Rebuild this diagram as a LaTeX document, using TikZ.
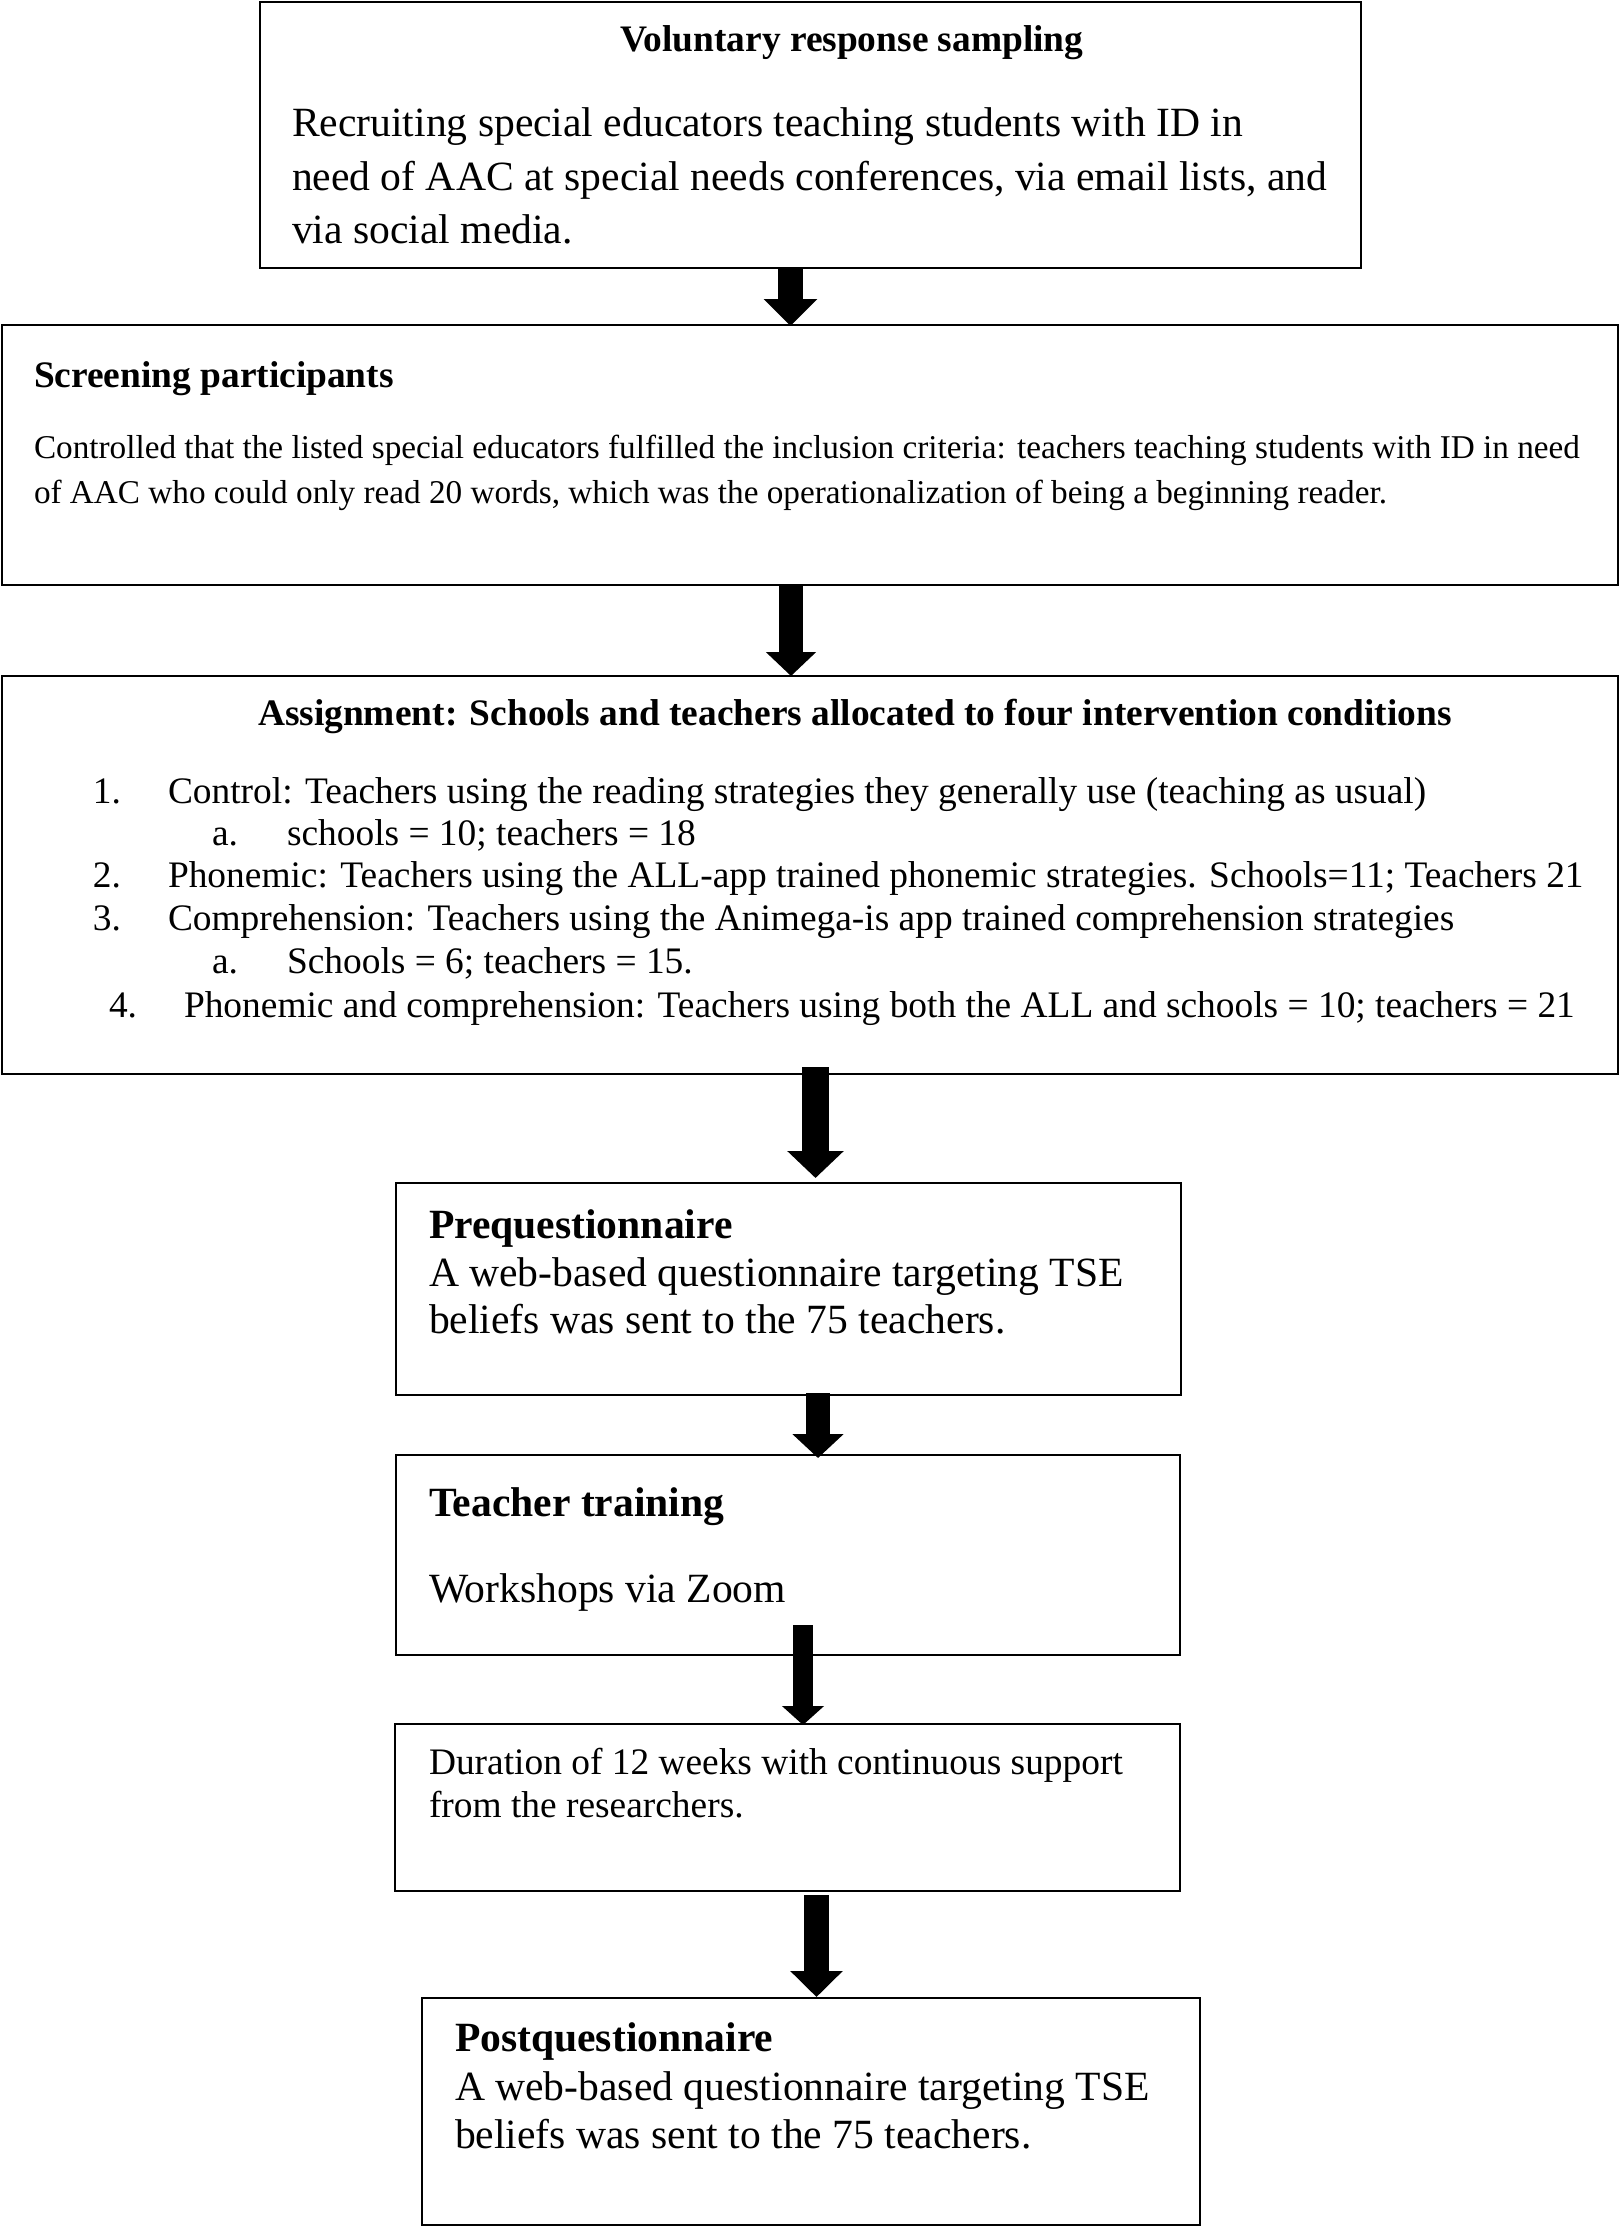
\documentclass[tikz,border=0pt]{standalone}
\usepackage{fontspec}
\setmainfont{Liberation Serif}
\usetikzlibrary{arrows.meta,fit}
\tikzset{
  box/.style={draw, line width=0.6pt, inner sep=0pt},
  txt/.style={anchor=base west, inner sep=0pt, outer sep=0pt},
  big/.style={font=\fontsize{12.48}{15}\selectfont},
  bigb/.style={font=\fontsize{12.48}{15}\selectfont\bfseries},
  mid/.style={font=\fontsize{11.22}{13.5}\selectfont},
  midb/.style={font=\fontsize{11.22}{13.5}\selectfont\bfseries},
  small/.style={font=\fontsize{9.97}{12}\selectfont},
  fat/.style={line cap=butt}
}
\begin{document}
\begin{tikzpicture}[x=0.3pt,y=-0.3pt]
\useasboundingbox (0,0) rectangle (1621,2227);
\fill[white] (0,0) rectangle (1621,2227);

% boxes
\node[box, fit={(260,2) (1361,268)}] (b1) {};
\node[box, fit={(2,325) (1618,585)}] (b2) {};
\node[box, fit={(2,676) (1618,1074)}] (b3) {};
\node[box, fit={(396,1183) (1181,1395)}] (b4) {};
\node[box, fit={(396,1455) (1180,1655)}] (b5) {};
\node[box, fit={(395,1724) (1180,1891)}] (b6) {};
\node[box, fit={(422,1998) (1200,2225)}] (b7) {};

% box 1 text
\node[txt,midb] (t1h) at (620,52) {Voluntary response sampling};
\node[txt,big] (t1a) at (292,137) {Recruiting special educators teaching students with ID in};
\node[txt,big] (t1b) at (292,191) {need of AAC at special needs conferences, via email lists, and};
\node[txt,big] (t1c) at (292,244) {via social media.};

% box 2 text
\node[txt,midb] (t2h) at (34,387) {Screening participants};
\node[txt,small] (t2a) at (34,458) {Controlled that the listed special educators fulfilled the inclusion criteria: teachers teaching students with ID in need};
\node[txt,small] (t2b) at (34,503) {of AAC who could only read 20 words, which was the operationalization of being a beginning reader.};

% box 3 text
\node[txt,midb] (t3h) at (258,725) {Assignment: Schools and teachers allocated to four intervention conditions};
\node[txt,mid] (n1) at (93,803) {1.};
\node[txt,mid] (i1) at (168,803) {Control: Teachers using the reading strategies they generally use (teaching as usual)};
\node[txt,mid] (n1a) at (212,845) {a.};
\node[txt,mid] (i1a) at (287,845) {schools = 10; teachers = 18};
\node[txt,mid] (n2) at (93,887) {2.};
\node[txt,mid] (i2) at (168,887) {Phonemic: Teachers using the ALL-app trained phonemic strategies. Schools=11; Teachers 21};
\node[txt,mid] (n3) at (93,930) {3.};
\node[txt,mid] (i3) at (168,930) {Comprehension: Teachers using the Animega-is app trained comprehension strategies};
\node[txt,mid] (n3a) at (212,973) {a.};
\node[txt,mid] (i3a) at (287,973) {Schools = 6; teachers = 15.};
\node[txt,mid] (n4) at (109,1017) {4.};
\node[txt,mid] (i4) at (184,1017) {Phonemic and comprehension: Teachers using both the ALL and schools = 10; teachers = 21};

% box 4 text
\node[txt,bigb] (t4h) at (429,1238) {Prequestionnaire};
\node[txt,big] (t4a) at (429,1286) {A web-based questionnaire targeting TSE};
\node[txt,big] (t4b) at (429,1333) {beliefs was sent to the 75 teachers.};

% box 5 text
\node[txt,bigb] (t5h) at (429,1516) {Teacher training};
\node[txt,big] (t5a) at (429,1602) {Workshops via Zoom};

% box 6 text
\node[txt,mid] (t6a) at (429,1774) {Duration of 12 weeks with continuous support};
\node[txt,mid] (t6b) at (429,1817) {from the researchers.};

% box 7 text
\node[txt,bigb] (t7h) at (455,2051) {Postquestionnaire};
\node[txt,big] (t7a) at (455,2100) {A web-based questionnaire targeting TSE};
\node[txt,big] (t7b) at (455,2148) {beliefs was sent to the 75 teachers.};

% arrow axes
\coordinate (x1) at (790.5,0);
\coordinate (x2) at (791,0);
\coordinate (x3) at (815.5,0);
\coordinate (x4) at (818,0);
\coordinate (x5) at (803,0);
\coordinate (x6) at (816.5,0);

\draw[fat, line width=7.5pt, -{Triangle[width=15.6pt,length=8.1pt]}]
  ([yshift=0.6pt]b1.south -| x1) -- ([yshift=-0.6pt]b2.north -| x1);
\draw[fat, line width=7.2pt, -{Triangle[width=14.7pt,length=7.2pt]}]
  (b2.south -| x2) -- ([yshift=-0.3pt]b3.north -| x2);
\draw[fat, line width=8.1pt, -{Triangle[width=16.5pt,length=8.1pt]}]
  ([yshift=2.4pt]b3.south -| x3) -- ([yshift=1.2pt]b4.north -| x3);
\draw[fat, line width=7.2pt, -{Triangle[width=15pt,length=7.2pt]}]
  ([yshift=0.9pt]b4.south -| x4) -- ([yshift=-1.2pt]b5.north -| x4);
\draw[fat, line width=6pt, -{Triangle[width=12.3pt,length=5.7pt]}]
  ([yshift=9.3pt]b5.south -| x5) -- ([yshift=-0.6pt]b6.north -| x5);
\draw[fat, line width=7.5pt, -{Triangle[width=15.3pt,length=7.8pt]}]
  ([yshift=-0.9pt]b6.south -| x6) -- (b7.north -| x6);
\end{tikzpicture}
\end{document}
